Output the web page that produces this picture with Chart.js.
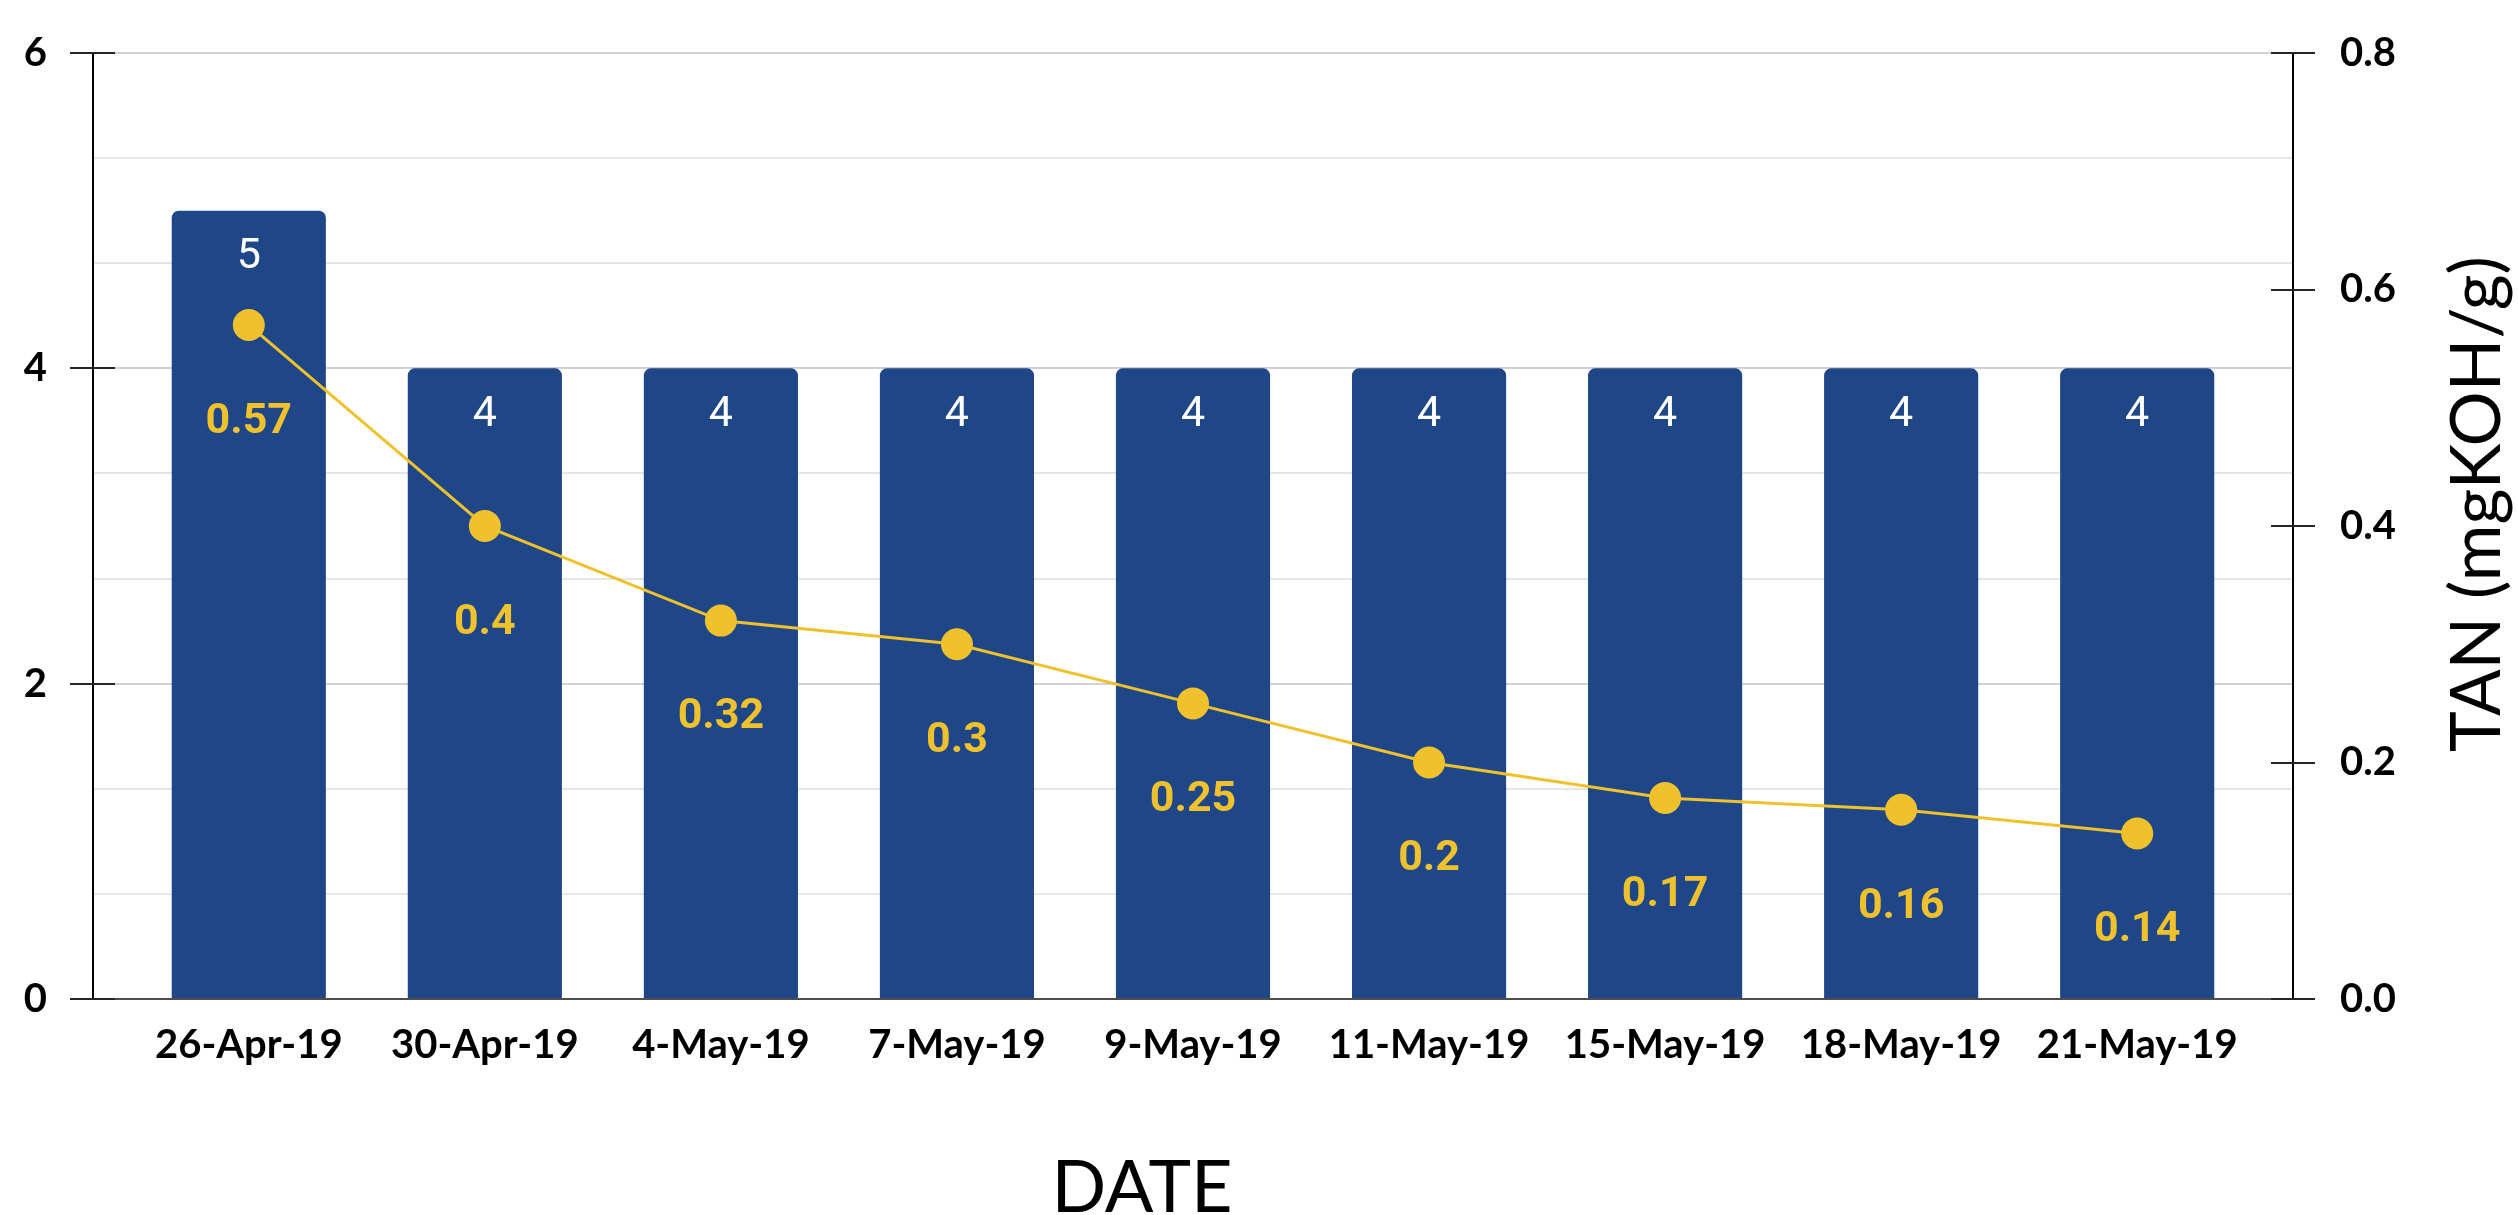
<!DOCTYPE html>
<html>
<head>
<meta charset="utf-8">
<script src="https://cdn.jsdelivr.net/npm/chart.js@4.4.1/dist/chart.umd.min.js"></script>
<style>
  html, body { margin: 0; padding: 0; background: #ffffff; }
  #wrap { width: 2518px; height: 1215px; position: relative; }
</style>
</head>
<body>
<div id="wrap"><canvas id="chart"></canvas></div>
<script>
// chart data
const dates = ['26-Apr-19', '30-Apr-19', '4-May-19', '7-May-19', '9-May-19',
               '11-May-19', '15-May-19', '18-May-19', '21-May-19'];
const barValues = [5, 4, 4, 4, 4, 4, 4, 4, 4];
const tanValues = [0.57, 0.4, 0.32, 0.3, 0.25, 0.2, 0.17, 0.16, 0.14];
const leftTicks = [0, 2, 4, 6];
const rightTicks = [0, 0.2, 0.4, 0.6, 0.8];

const BLUE = '#1f4788';
const YELLOW = '#efc12d';

// is this left-axis value one of the labelled ticks
function isMajor(v) {
    return leftTicks.some(t => Math.abs(t - v) < 1e-6);
}

// tick marks crossing the axes, axis titles
const axisDecor = {
    id: 'axisDecor',
    afterDraw(chart) {
        const ctx = chart.ctx;
        const yl = chart.scales.y;
        const yr = chart.scales.y2;
        ctx.save();
        ctx.strokeStyle = '#262626';
        ctx.lineWidth = 2;
        leftTicks.forEach(v => {
            const y = Math.round(yl.getPixelForValue(v));
            ctx.beginPath();
            ctx.moveTo(yl.right - 23, y);
            ctx.lineTo(yl.right + 22, y);
            ctx.stroke();
        });
        rightTicks.forEach(v => {
            const y = Math.round(yr.getPixelForValue(v));
            ctx.beginPath();
            ctx.moveTo(yr.left - 22, y);
            ctx.lineTo(yr.left + 22, y);
            ctx.stroke();
        });

        ctx.fillStyle = '#000000';
        ctx.textAlign = 'center';
        ctx.textBaseline = 'alphabetic';
        ctx.font = '72px Lato';
        ctx.fillText('DATE', 1142, 1212);

        ctx.translate(2500, 504);
        ctx.rotate(-Math.PI / 2);
        ctx.font = '69px Lato';
        ctx.fillText('TAN (mgKOH/g)', 0, 0);
        ctx.restore();
    }
};

// value labels on bars and under the points
const valueLabels = {
    id: 'valueLabels',
    afterDatasetsDraw(chart) {
        const ctx = chart.ctx;
        ctx.save();
        ctx.textAlign = 'center';
        ctx.textBaseline = 'middle';

        ctx.fillStyle = '#ffffff';
        ctx.font = '43px Roboto';
        chart.getDatasetMeta(0).data.forEach((bar, i) => {
            ctx.fillText(String(barValues[i]), bar.x, bar.y + 47);
        });

        ctx.fillStyle = YELLOW;
        ctx.font = 'bold 43px Roboto';
        chart.getDatasetMeta(1).data.forEach((pt, i) => {
            ctx.fillText(String(tanValues[i]), pt.x, pt.y + 97);
        });
        ctx.restore();
    }
};

// fixed axis box sizes; drop the label padding Chart.js adds above/below
function fitY(width) {
    return s => {
        s.width = width;
        s.paddingTop = 0;
        s.paddingBottom = 0;
    };
}

function draw() {
    const ctx = document.getElementById('chart').getContext('2d');
    new Chart(ctx, {
        data: {
            datasets: [{
                type: 'bar',
                label: 'Value',
                data: barValues.map((v, i) => ({ x: i, y: v })),
                backgroundColor: BLUE,
                borderWidth: 0,
                borderRadius: 7,
                barPercentage: 1,
                categoryPercentage: 0.653,
                yAxisID: 'y',
                order: 1
            }, {
                type: 'line',
                label: 'TAN',
                data: tanValues.map((v, i) => ({ x: i, y: v })),
                borderColor: YELLOW,
                backgroundColor: YELLOW,
                borderWidth: 3,
                pointRadius: 16,
                pointBorderWidth: 0,
                pointBackgroundColor: YELLOW,
                tension: 0,
                yAxisID: 'y2',
                order: 0
            }]
        },
        options: {
            responsive: true,
            maintainAspectRatio: false,
            animation: false,
            layout: { padding: { top: 53, left: 0, right: 0, bottom: 0 } },
            plugins: {
                legend: { display: false },
                tooltip: { enabled: false }
            },
            scales: {
                x: {
                    type: 'linear',
                    offset: false,
                    min: -0.66,
                    max: dates.length - 1 + 0.66,
                    grid: { drawOnChartArea: false, drawTicks: false },
                    border: { color: '#4d4d4d', width: 2 },
                    ticks: {
                        stepSize: 1,
                        includeBounds: false,
                        autoSkip: false,
                        maxRotation: 0,
                        padding: 22,
                        color: '#000000',
                        font: { family: 'Lato', weight: 'bold', size: 40 },
                        callback: v => Number.isInteger(v) ? (dates[v] || '') : ''
                    },
                    afterFit: s => { s.height = 216; }
                },
                y: {
                    position: 'left',
                    min: 0,
                    max: 6,
                    grid: {
                        drawTicks: false,
                        lineWidth: 2,
                        color: c => isMajor(c.tick.value) ? '#d2d2d2' : '#e6e6e6'
                    },
                    border: { color: '#000000', width: 2 },
                    ticks: {
                        stepSize: 2 / 3,
                        padding: 46,
                        color: '#000000',
                        font: { family: 'Lato', weight: 'bold', size: 40 },
                        callback: v => isMajor(v) ? String(Math.round(v)) : ''
                    },
                    afterFit: fitY(93)
                },
                y2: {
                    position: 'right',
                    min: 0,
                    max: 0.8,
                    grid: { drawOnChartArea: false, drawTicks: false },
                    border: { color: '#000000', width: 2 },
                    ticks: {
                        stepSize: 0.2,
                        padding: 47,
                        color: '#000000',
                        font: { family: 'Lato', weight: 'bold', size: 40 },
                        callback: v => v.toFixed(1)
                    },
                    afterFit: fitY(225)
                }
            }
        },
        plugins: [valueLabels, axisDecor]
    });
}

Promise.all([
    document.fonts.load('bold 40px Lato'),
    document.fonts.load('72px Lato'),
    document.fonts.load('43px Roboto'),
    document.fonts.load('bold 43px Roboto')
]).then(draw, draw);
</script>
</body>
</html>
